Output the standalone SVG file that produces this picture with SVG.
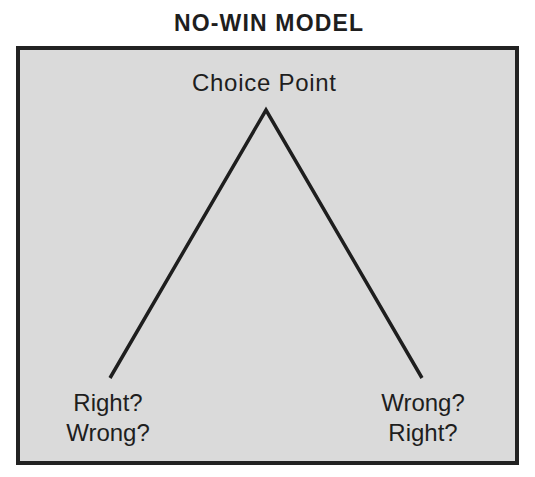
<svg xmlns="http://www.w3.org/2000/svg" width="535" height="477" viewBox="0 0 535 477">
<style>
text{font-family:"Liberation Sans",Arial,sans-serif;fill:#1e1e1e}
.t{font-size:23px;font-weight:bold}
.n{font-size:24px}
.l{font-size:24px;text-anchor:middle}
.c{fill:none;stroke:#1e1e1e;stroke-width:3.5;stroke-linejoin:miter;stroke-linecap:butt}
</style>
<rect x="0" y="0" width="535" height="477" fill="#ffffff"/>
<text class="t" x="174" y="31" textLength="189" lengthAdjust="spacing">NO-WIN MODEL</text>
<rect id="frame" x="18" y="48" width="499" height="415" fill="#dadada" stroke="#222222" stroke-width="4"/>
<g id="choice"><text class="n" x="192" y="91" textLength="144" lengthAdjust="spacing">Choice Point</text></g>
<g id="connectors"><polyline class="c" points="110,378 266,110 422,378"/></g>
<g id="left"><text class="l" x="108" y="411">Right?</text><text class="l" x="108" y="441">Wrong?</text></g>
<g id="right"><text class="l" x="423" y="411">Wrong?</text><text class="l" x="423" y="441">Right?</text></g>
</svg>
